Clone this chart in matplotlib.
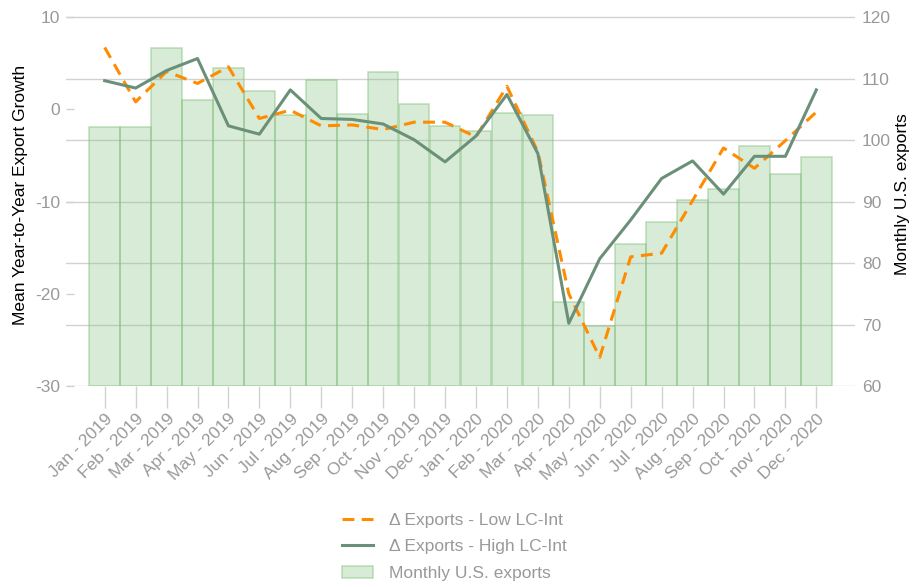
import numpy as np
import matplotlib
matplotlib.use("Agg")
import matplotlib.pyplot as plt

plt.rcParams['font.family'] = ['Liberation Sans', 'DejaVu Sans']
plt.rcParams['axes.unicode_minus'] = False

months = ["Jan - 2019", "Feb - 2019", "Mar - 2019", "Apr - 2019", "May - 2019", "Jun - 2019",
          "Jul - 2019", "Aug - 2019", "Sep - 2019", "Oct - 2019", "Nov - 2019", "Dec - 2019",
          "Jan - 2020", "Feb - 2020", "Mar - 2020", "Apr - 2020", "May - 2020", "Jun - 2020",
          "Jul - 2020", "Aug - 2020", "Sep - 2020", "Oct - 2020", "nov - 2020", "Dec - 2020"]

# monthly U.S. exports (right axis)
exports = [102.1, 102.1, 115.0, 106.5, 111.7, 107.9, 104.0, 109.7, 104.3, 111.1, 105.8, 102.2,
           101.5, 104.4, 104.0, 73.7, 69.7, 83.1, 86.6, 90.2, 92.1, 99.0, 94.4, 97.2]

# mean year-to-year export growth (left axis)
low_lc = [6.7, 0.8, 4.1, 2.8, 4.6, -1.0, -0.1, -1.8, -1.7, -2.2, -1.4, -1.4,
          -3.0, 2.5, -4.6, -20.0, -26.9, -16.0, -15.6, -9.9, -4.2, -6.4, -3.4, -0.3]
high_lc = [3.1, 2.3, 4.2, 5.5, -1.8, -2.7, 2.1, -1.0, -1.1, -1.6, -3.3, -5.7,
           -2.9, 1.6, -4.8, -23.2, -16.2, -12.0, -7.5, -5.6, -9.2, -5.1, -5.1, 2.1]

x = np.arange(len(months))
gray = '#999999'

fig = plt.figure(figsize=(9.15, 5.87), dpi=100)
ax = fig.add_axes([66 / 915, 1 - 386 / 587, (855 - 66) / 915, (386 - 3) / 587])
ax2 = ax.twinx()

# bars on the right axis, under the lines
bars = ax2.bar(x, [e - 60 for e in exports], bottom=60, width=0.99,
               facecolor=(0.5, 0.75, 0.48, 0.3), edgecolor=(0.5, 0.75, 0.48, 0.45),
               linewidth=1.2, label='Monthly U.S. exports')
ax2.set_ylim(60, 122.28)
ax2.set_yticks([60, 70, 80, 90, 100, 110, 120])
ax2.set_axisbelow(True)
ax2.grid(True, axis='both', color='#d2d2d2', linewidth=1.0)
ax2.tick_params(axis='y', length=0, pad=5, labelsize=12.5, labelcolor=gray)
ax2.set_ylabel('Monthly U.S. exports', fontsize=12.5, color='black', labelpad=3)

ax.set_zorder(ax2.get_zorder() + 1)
ax.patch.set_visible(False)
l1, = ax.plot(x, low_lc, color='#FF8C00', linewidth=2.2, dashes=(3.9, 2.4),
              label='\u0394 Exports - Low LC-Int')
l2, = ax.plot(x, high_lc, color='#6b9079', linewidth=2.2,
              label='\u0394 Exports - High LC-Int')
ax.set_ylim(-30, 11.52)
ax.set_yticks([-30, -20, -10, 0, 10])
ax.set_xlim(-1.25, 24.25)
ax.set_xticks(x)
ax.set_xticklabels(months, rotation=45, ha='right', rotation_mode='anchor')
ax.tick_params(axis='x', length=16, width=1, color='#d2d2d2', pad=2,
               labelsize=12.5, labelcolor=gray)
ax.tick_params(axis='y', direction='in', length=6, width=1, color='#d2d2d2', pad=4,
               labelsize=12.5, labelcolor=gray)
ax.set_ylabel('Mean Year-to-Year Export Growth', fontsize=12.5, color='black', labelpad=5)

for a in (ax, ax2):
    for s in a.spines.values():
        s.set_visible(False)

leg = fig.legend(handles=[l1, l2, bars], loc='upper left',
                 bbox_to_anchor=(342 / 915, 1 - 513 / 587), frameon=False,
                 borderpad=0, borderaxespad=0, fontsize=12.5, labelcolor=gray,
                 handlelength=1.78, handletextpad=0.95, labelspacing=0.64)

fig.savefig('out.png', dpi=100)
